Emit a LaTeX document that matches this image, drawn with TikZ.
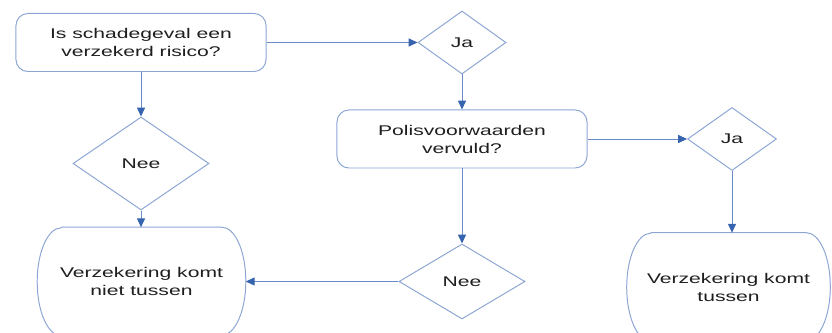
\documentclass[tikz,border=0pt]{standalone}
\usepackage{fontspec}
\setmainfont{Liberation Sans}[FakeStretch=1.5]
\usetikzlibrary{shapes.geometric,arrows.meta}
\definecolor{boxblue}{RGB}{140,165,210}
\definecolor{lineblue}{RGB}{105,140,200}
\definecolor{tipblue}{RGB}{55,100,175}
\definecolor{inkgray}{RGB}{30,30,30}
\tikzset{
    question/.style={draw=boxblue, line width=0.7pt, rounded corners=0.3cm, align=center,
        minimum width=6.25cm, minimum height=1.45cm, text=inkgray, font=\fontsize{10}{12.8}\selectfont},
    answer/.style={draw=boxblue, line width=0.7pt, diamond, inner sep=0pt, text=inkgray,
        font=\fontsize{10}{12.8}\selectfont},
    outcome/.style={align=center, minimum width=5.2cm, minimum height=2.7cm, text=inkgray,
        font=\fontsize{10}{12.8}\selectfont},
    link/.style={draw=lineblue, line width=0.7pt, -{Triangle[length=2.2mm,width=2mm,color=tipblue]}}
}
\begin{document}
\begin{tikzpicture}[x=0.025cm, y=-0.025cm]
    \clip (0,0) rectangle (832,333);
    % vragen
    \node[question] (q1) at (141,42.5) {Is schadegeval een\\verzekerd risico?};
    \node[question] (q2) at (462,139) {Polisvoorwaarden\\vervuld?};
    % antwoorden
    \node[answer, minimum width=2.2cm, minimum height=1.575cm] (ja1) at (462,42.5) {Ja};
    \node[answer, minimum width=2.225cm, minimum height=1.575cm] (ja2) at (732,139) {Ja};
    \node[answer, minimum width=3.4cm, minimum height=2.325cm] (nee1) at (141,163.5) {Nee};
    \node[answer, minimum width=3.15cm, minimum height=1.875cm] (nee2) at (462,281.5) {Nee};
    % uitkomsten
    \node[outcome] (v4) at (141.5,281.5) {Verzekering komt\\niet tussen};
    \node[outcome, minimum width=5.075cm] (v3) at (728.5,287) {Verzekering komt\\tussen};
    \foreach \v in {v3,v4}
        \draw[draw=boxblue, line width=0.7pt] ([xshift=0.6cm]\v.north west) -- ([xshift=-0.6cm]\v.north east)
            arc[start angle=90, end angle=-90, x radius=0.6cm, y radius=1.35cm]
            -- ([xshift=0.6cm]\v.south west)
            arc[start angle=270, end angle=90, x radius=0.6cm, y radius=1.35cm];
    % pijlen
    \draw[link] (q1) -- (ja1);
    \draw[link] (ja1) -- (q2);
    \draw[link] (q2) -- (ja2);
    \draw[link] (q1) -- (nee1);
    \draw[link] (nee1.south) -- (nee1.south |- v4.north);
    \draw[link] (q2) -- (nee2);
    \draw[link] (nee2) -- (v4.east);
    \draw[link] (ja2.south) -- (ja2.south |- v3.north);
\end{tikzpicture}
\end{document}
